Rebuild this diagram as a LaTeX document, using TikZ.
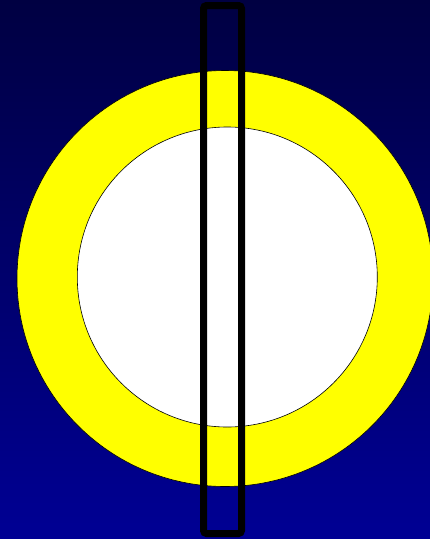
\documentclass[tikz,border=0pt]{standalone}
\usepackage{xcolor}
\definecolor{skytop}{RGB}{0,0,66}
\definecolor{skybottom}{RGB}{0,0,148}
\definecolor{ringfill}{RGB}{255,255,0}

\begin{document}
\begin{tikzpicture}[x=1pt, y=-1pt,
      ring/.style  = {draw=black, line width=0.6pt, fill=ringfill},
      hole/.style  = {draw=black, line width=0.6pt, fill=white},
      slot/.style  = {draw=black, line width=7pt, rounded corners=3pt}
    ]

    % background
    \useasboundingbox (0,0) rectangle (430,539);
    \shade[top color=skytop, bottom color=skybottom] (0,0) rectangle (430,539);

    \begin{scope}
      \clip (0,0) rectangle (430,539);
      \path[ring] (225,278.5) circle[radius=208];
      \path[hole] (227.3,277) circle[radius=150];
    \end{scope}

    % vertical slot
    \draw[slot] (203.5,5.5) rectangle (241.5,533.5);
  \end{tikzpicture}
\end{document}
